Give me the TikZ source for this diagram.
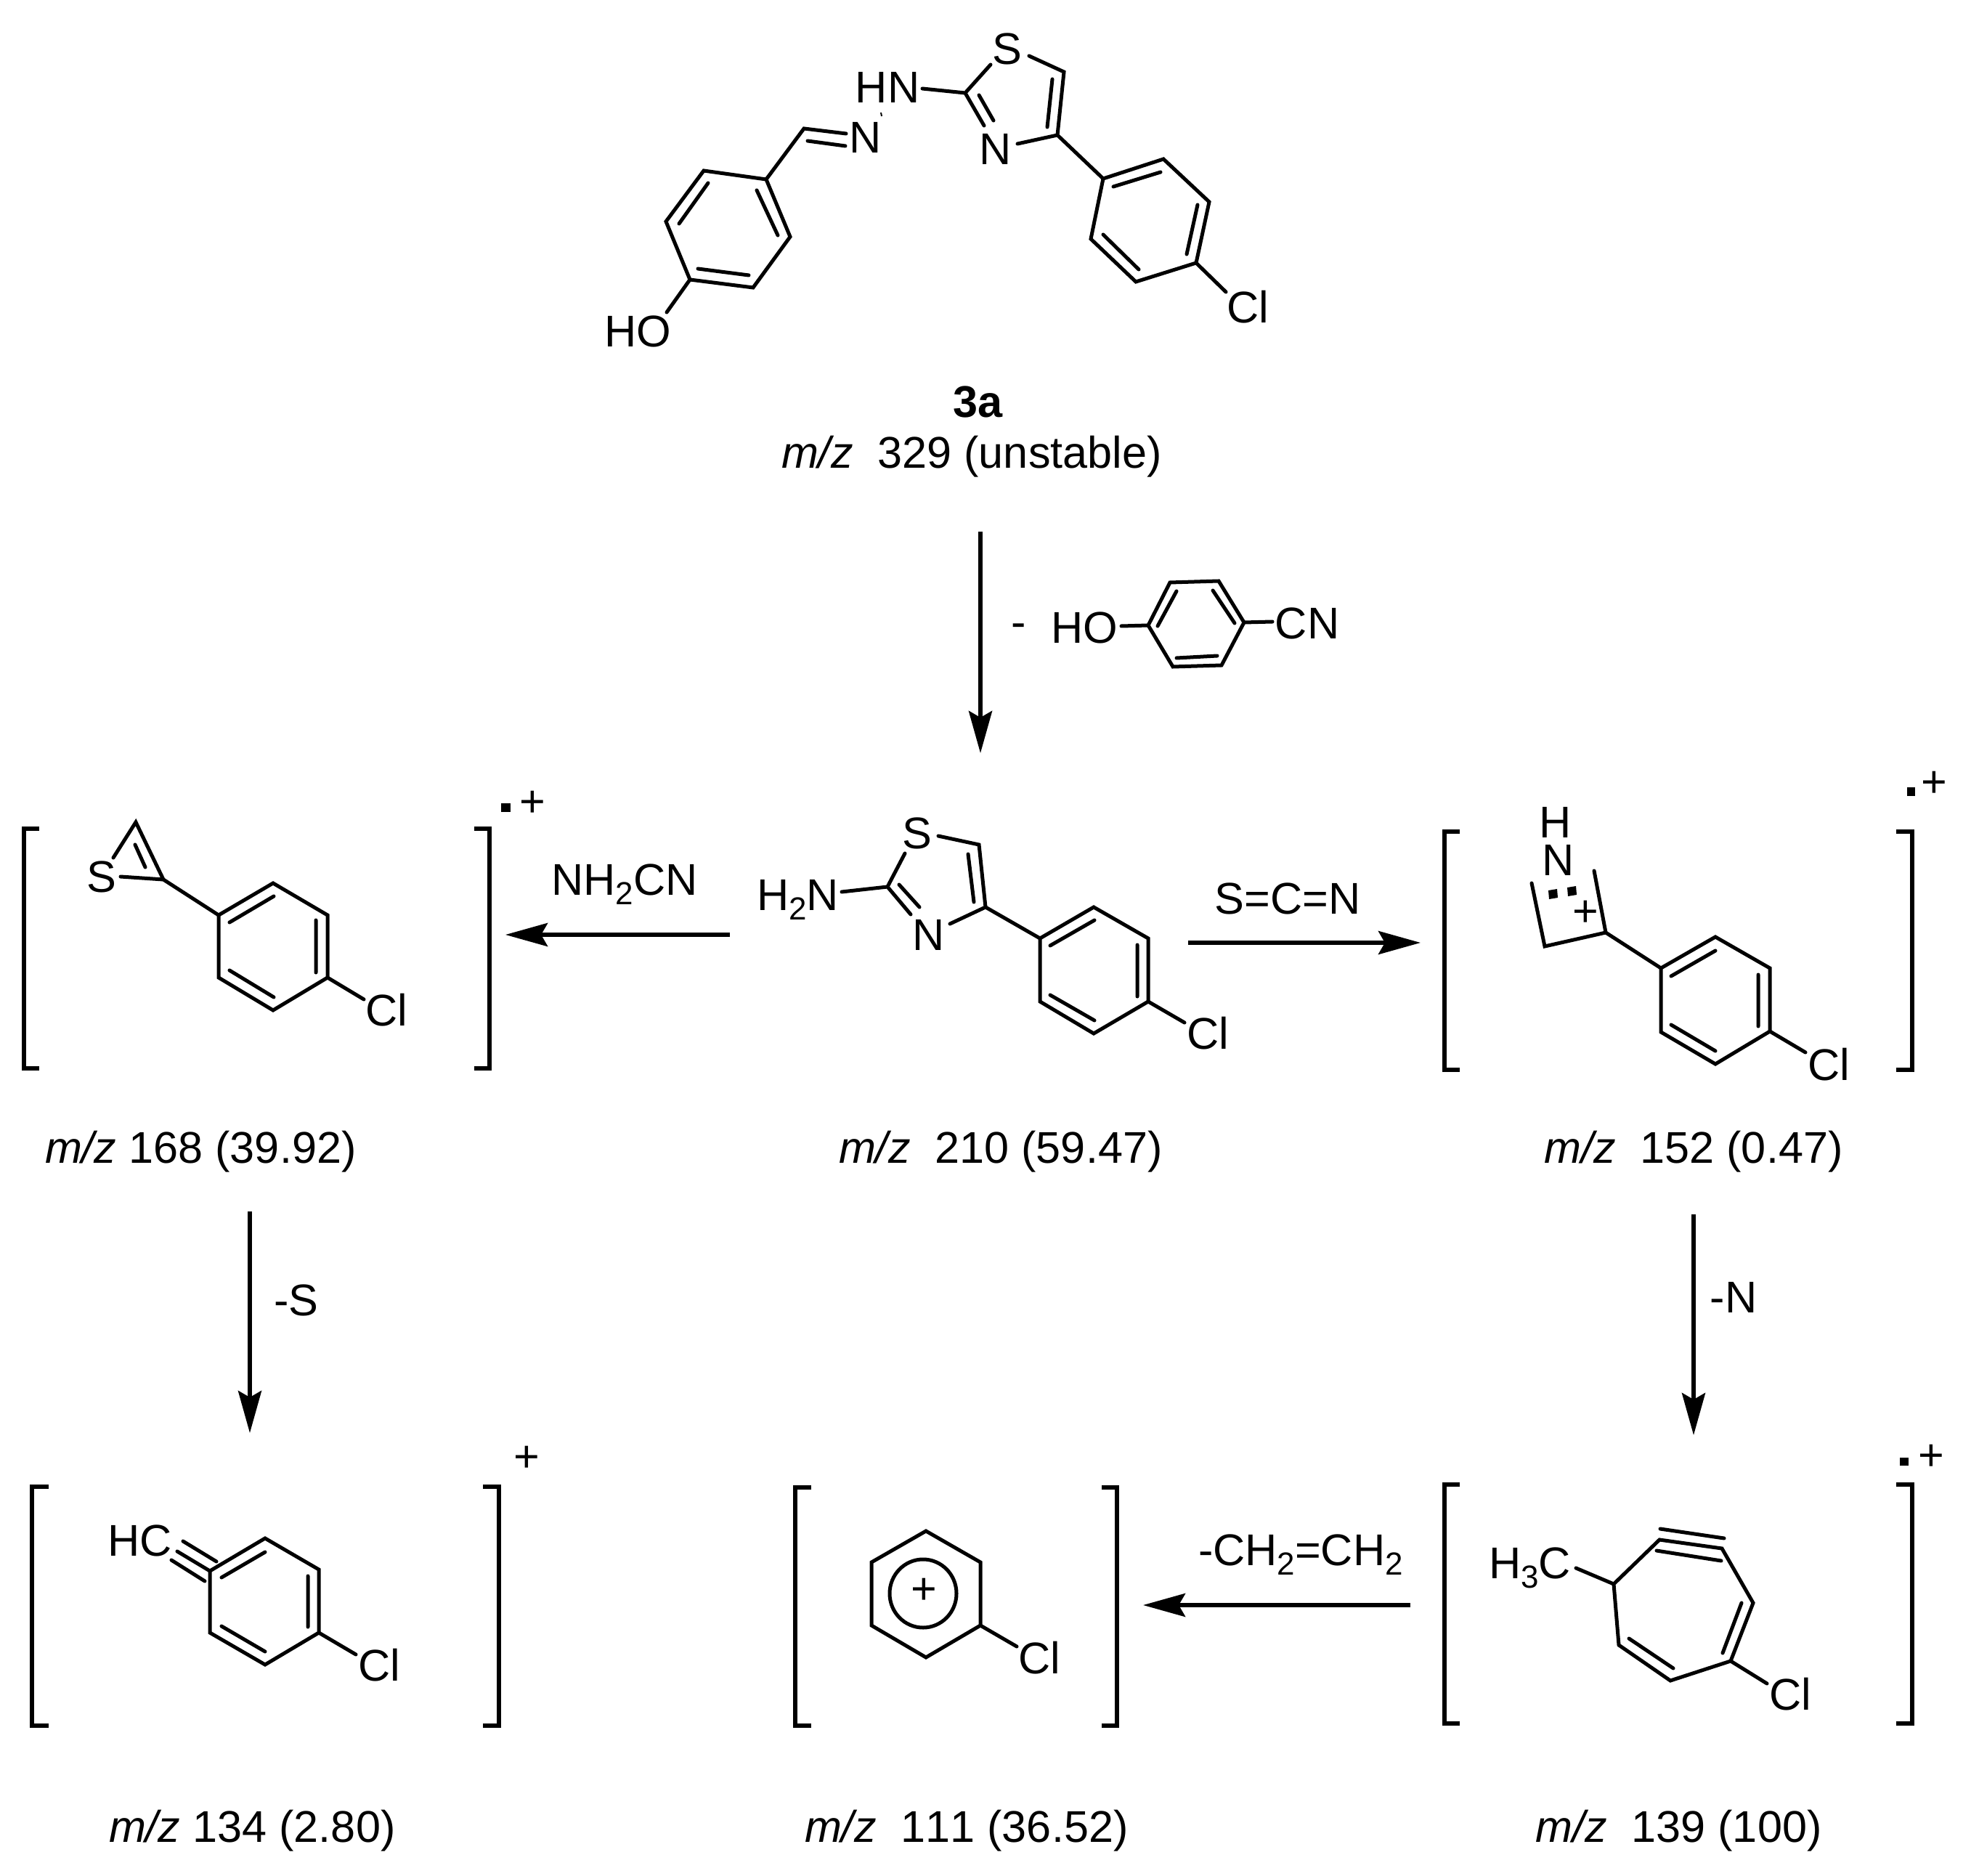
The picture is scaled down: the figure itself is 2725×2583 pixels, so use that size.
\documentclass[tikz,border=0pt]{standalone}
\usepackage{fontspec}
\setmainfont{Liberation Sans}[Kerning=Off]
\usetikzlibrary{arrows.meta}
\newcommand{\chemsub}[1]{\raisebox{-0.13cm}{\fontsize{12.5}{14}\selectfont #1}}
\newcommand{\mzit}{\textit{m/z}}
\tikzset{
  bond/.style={line width=0.05cm,line cap=round,line join=miter},
  brk/.style={line width=0.055cm,line cap=butt,line join=miter},
  rxn/.style={line width=0.055cm,-{Stealth[length=0.58cm,width=0.32cm,inset=0.09cm]}},
  lab/.style={inner sep=0pt,outer sep=0pt,font=\fontsize{17.4}{20}\selectfont},
  base w/.style={lab,anchor=base west},
}
\begin{document}
\begin{tikzpicture}[x=0.01cm,y=-0.01cm]
\useasboundingbox (0,0) rectangle (2725,2583);

% ---- 3a
\draw[bond] (969,235)--(1055,247)--(1088,326)--(1037,396)--(950,385)--(917,305)--cycle;
\draw[bond] (975,252)--(935,308) (1042,262)--(1071,324) (961,370)--(1031,379);
\draw[bond] (1055,247)--(1107,177)--(1165,184) (1112,194)--(1164,201);
\draw[line width=0.02cm] (1213,155)--(1214,160);
\draw[bond] (950,385)--(918,430);
\draw[bond] (1270,122)--(1329,128)--(1364,89) (1417,77)--(1465,99)--(1456,186)--(1401,198);
\draw[bond] (1329,128)--(1355,173) (1348,131)--(1368,166) (1449,109)--(1442,175);
\draw[bond] (1456,186)--(1519,246);
\draw[bond] (1519,246)--(1602,219)--(1665,278)--(1647,362)--(1564,388)--(1502,329)--cycle;
\draw[bond] (1533,257)--(1598,237) (1649,282)--(1634,350) (1519,323)--(1568,371);
\draw[bond] (1647,362)--(1688,402);
\node[lab] (a1) at (1192,189) {N};
\node[lab] (a2) at (1222,120) {HN};
\node[lab] (a3) at (1387,67) {S};
\node[lab] (a4) at (1371,205) {N};
\node[lab] (a5) at (1718,423) {Cl};
\node[lab] (a6) at (878,456) {HO};
\node[lab,anchor=base] (a7) at (1347,575) {\textbf{3a}};
\node[base w] (a8) at (1076,645) {\mzit~~329 (unstable)};

% ---- first arrow and neutral loss
\coordinate (ar1s) at (1350,732);
\coordinate (ar1e) at (1350,1037);
\draw[rxn] (ar1s)--(ar1e);
\node[lab] (h1) at (1403,868) {-};
\node[lab] (h2) at (1493,864) {HO};
\node[lab] (h3) at (1800,858) {CN};
\draw[bond] (1544,862)--(1581,861);
\draw[bond] (1581,861)--(1611,802)--(1678,800)--(1713,857)--(1682,916)--(1615,918)--cycle;
\draw[bond] (1594,862)--(1620,814) (1670,813)--(1700,858) (1620,906)--(1676,903);
\draw[bond] (1713,857)--(1752,856);

% ---- m/z 210
\node[base w] (b1) at (1042,1253) {H\chemsub{2}N};
\node[lab] (b2) at (1263,1147) {S};
\node[lab] (b3) at (1279,1287) {N};
\node[lab] (b4) at (1663,1423) {Cl};
\draw[bond] (1159,1228)--(1222,1221)--(1246,1175) (1292,1151)--(1348,1163)--(1357,1249)--(1308,1272);
\draw[bond] (1222,1221)--(1254,1259) (1238,1218)--(1266,1249) (1333,1176)--(1341,1242);
\draw[bond] (1357,1249)--(1432,1292);
\draw[bond] (1432,1292)--(1506,1249)--(1581,1292)--(1581,1379)--(1506,1423)--(1432,1379)--cycle;
\draw[bond] (1446,1302)--(1507,1267) (1566,1301)--(1566,1372) (1446,1370)--(1507,1405);
\draw[bond] (1581,1379)--(1631,1408);
\node[base w] (b5) at (1155,1601) {\mzit~~210 (59.47)};

% ---- m/z 168
\draw[brk] (54,1141)--(33,1141)--(33,1471)--(54,1471);
\draw[brk] (653,1141)--(674,1141)--(674,1471)--(653,1471);
\fill (690,1106) rectangle (703,1118);
\node[lab] (c1) at (733,1107) {+};
\node[lab] (c2) at (140,1207) {S};
\node[lab] (c3) at (532,1391) {Cl};
\draw[bond] (156,1181)--(187,1132)--(225,1211)--(166,1207);
\draw[bond] (186,1163)--(200,1194);
\draw[bond] (225,1211)--(301,1260);
\draw[bond] (301,1260)--(376,1216)--(451,1260)--(451,1346)--(376,1391)--(301,1346)--cycle;
\draw[bond] (316,1270)--(377,1234) (435,1267)--(435,1339) (316,1336)--(377,1373);
\draw[bond] (451,1346)--(501,1376);
\node[base w] (c4) at (62,1601) {\mzit{} 168 (39.92)};

% ---- arrows middle row
\coordinate (ar2s) at (1005,1287);
\coordinate (ar2e) at (696,1287);
\draw[rxn] (ar2s)--(ar2e);
\node[lab,anchor=base] (d1) at (860,1232) {NH\chemsub{2}CN};
\coordinate (ar3s) at (1636,1298);
\coordinate (ar3e) at (1956,1298);
\draw[rxn] (ar3s)--(ar3e);
\node[lab,anchor=base] (d2) at (1773,1258) {S=C=N};

% ---- m/z 152
\draw[brk] (2010,1145)--(1989,1145)--(1989,1473)--(2010,1473);
\draw[brk] (2611,1145)--(2633,1145)--(2633,1473)--(2611,1473);
\fill (2626,1084) rectangle (2637,1096);
\node[lab] (e1) at (2663,1080) {+};
\node[lab] (e2) at (2142,1132) {H};
\node[lab] (e3) at (2146,1184) {N};
\node[lab] (e4) at (2183,1258) {+};
\node[lab] (e5) at (2518,1466) {Cl};
\draw[bond] (2109,1216)--(2127,1303)--(2211,1284)--(2195,1199);
\fill (2132,1226)--(2144,1224)--(2145,1236)--(2133,1238)--cycle;
\fill (2158,1222)--(2170,1220)--(2171,1232)--(2159,1234)--cycle;
\draw[bond] (2211,1284)--(2287,1333);
\draw[bond] (2287,1333)--(2362,1290)--(2437,1333)--(2437,1420)--(2362,1465)--(2287,1421)--cycle;
\draw[bond] (2301,1344)--(2362,1309) (2421,1342)--(2421,1413) (2301,1411)--(2362,1447);
\draw[bond] (2437,1420)--(2486,1449);
\node[base w] (e6) at (2126,1601) {\mzit~~152 (0.47)};

% ---- vertical arrows
\coordinate (ar4s) at (344,1668);
\coordinate (ar4e) at (344,1973);
\draw[rxn] (ar4s)--(ar4e);
\node[lab] (f1) at (408,1790) {-S};
\coordinate (ar5s) at (2332,1672);
\coordinate (ar5e) at (2332,1976);
\draw[rxn] (ar5s)--(ar5e);
\node[lab] (f2) at (2387,1786) {-N};

% ---- m/z 134
\draw[brk] (67,2047)--(44,2047)--(44,2376)--(67,2376);
\draw[brk] (665,2047)--(687,2047)--(687,2376)--(665,2376);
\node[lab] (g1) at (725,2009) {+};
\node[lab] (g2) at (193,2121) {HC};
\node[lab] (g3) at (522,2293) {Cl};
\draw[bond] (244,2136)--(289,2163) (252,2122)--(298,2150) (236,2148)--(282,2177);
\draw[bond] (289,2163)--(365,2118)--(439,2161)--(439,2248)--(365,2292)--(289,2248)--cycle;
\draw[bond] (305,2172)--(365,2137) (424,2170)--(424,2240) (305,2239)--(365,2274);
\draw[bond] (439,2248)--(490,2278);
\node[base w] (g4) at (150,2536) {\mzit{} 134 (2.80)};

% ---- m/z 111
\draw[brk] (1117,2048)--(1095,2048)--(1095,2376)--(1117,2376);
\draw[brk] (1517,2048)--(1538,2048)--(1538,2376)--(1517,2376);
\draw[bond] (1275,2108)--(1350,2151)--(1350,2238)--(1275,2282)--(1200,2238)--(1200,2151)--cycle;
\draw[bond] (1271,2194) ellipse [x radius=46,y radius=47];
\node[lab] (i1) at (1272,2191) {+};
\node[lab] (i2) at (1431,2283) {Cl};
\draw[bond] (1350,2238)--(1400,2267);
\node[base w] (i3) at (1108,2536) {\mzit~~111 (36.52)};
\coordinate (ar6s) at (1942,2210);
\coordinate (ar6e) at (1574,2210);
\draw[rxn] (ar6s)--(ar6e);
\node[base w] (i4) at (1650,2155) {-CH\chemsub{2}=CH\chemsub{2}};

% ---- m/z 139
\draw[brk] (2010,2044)--(1989,2044)--(1989,2373)--(2010,2373);
\draw[brk] (2611,2044)--(2633,2044)--(2633,2373)--(2611,2373);
\fill (2616,2007) rectangle (2628,2018);
\node[lab] (j1) at (2659,2007) {+};
\node[base w] (j2) at (2050,2173) {H\chemsub{3}C};
\node[lab] (j3) at (2465,2333) {Cl};
\draw[bond] (2170,2159)--(2222,2181);
\draw[bond] (2222,2181)--(2285,2120)--(2371,2132)--(2414,2207)--(2383,2287)--(2300,2314)--(2229,2265)--cycle;
\draw[bond] (2286,2105)--(2374,2118) (2281,2135)--(2370,2149);
\draw[bond] (2398,2207)--(2372,2276) (2243,2256)--(2304,2297);
\draw[bond] (2383,2287)--(2433,2318);
\node[base w] (j4) at (2114,2536) {\mzit~~139 (100)};
\end{tikzpicture}
\end{document}
